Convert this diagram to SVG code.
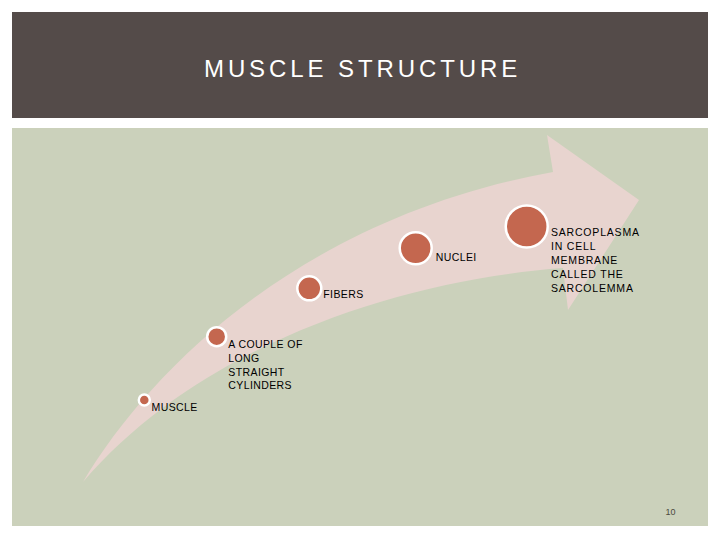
<svg xmlns="http://www.w3.org/2000/svg" width="720" height="540" viewBox="0 0 720 540">
<style>
.dot{fill:#c4674f;stroke:#ffffff;stroke-width:2.5}
.lbl{font-family:"Liberation Sans",Arial,sans-serif;font-size:10.5px;fill:#000000;letter-spacing:0.4px}
.title{font-family:"Liberation Sans",Arial,sans-serif;font-size:24px;fill:#ffffff;letter-spacing:3.9px}
.pg{font-family:"Liberation Sans",Arial,sans-serif;font-size:9px;fill:#4a4a40}
</style>
<rect x="0" y="0" width="720" height="540" fill="#ffffff"/>
<rect id="header" x="12" y="12" width="696" height="106" fill="#544b49"/>
<text class="title" x="204" y="77">MUSCLE STRUCTURE</text>
<rect id="panel" x="12" y="128" width="696" height="398" fill="#cbd1bb"/>
<g id="connectors">
<path d="M83,482 C150,370 300,218 553,172 L547,135 L639,200 L568,310 L563,268 C400,280 200,345 83,482 Z" fill="#e8d4cf"/>
</g>
<g id="node-muscle">
<circle class="dot" cx="144.3" cy="400" r="5.5"/>
<text class="lbl" x="151.5" y="410.5">MUSCLE</text>
</g>
<g id="node-couple">
<circle class="dot" cx="216.7" cy="336.7" r="9.5"/>
<text class="lbl" x="228.3" y="347.7">A COUPLE OF</text>
<text class="lbl" x="228.3" y="361.6">LONG</text>
<text class="lbl" x="228.3" y="375.5">STRAIGHT</text>
<text class="lbl" x="228.3" y="389.4">CYLINDERS</text>
</g>
<g id="node-fibers">
<circle class="dot" cx="309.3" cy="288.3" r="12"/>
<text class="lbl" x="323.3" y="298.3">FIBERS</text>
</g>
<g id="node-nuclei">
<circle class="dot" cx="415.7" cy="248.3" r="16"/>
<text class="lbl" x="435.7" y="260.7">NUCLEI</text>
</g>
<g id="node-sarcoplasma">
<circle class="dot" cx="526.7" cy="226.5" r="21"/>
<text class="lbl" x="551" y="236" style="letter-spacing:0.8px">SARCOPLASMA</text>
<text class="lbl" x="551" y="249.9" style="letter-spacing:0.8px">IN CELL</text>
<text class="lbl" x="551" y="263.8" style="letter-spacing:0.8px">MEMBRANE</text>
<text class="lbl" x="551" y="277.7" style="letter-spacing:0.8px">CALLED THE</text>
<text class="lbl" x="551" y="291.6" style="letter-spacing:0.8px">SARCOLEMMA</text>
</g>
<text class="pg" x="665.5" y="514.5">10</text>
</svg>
